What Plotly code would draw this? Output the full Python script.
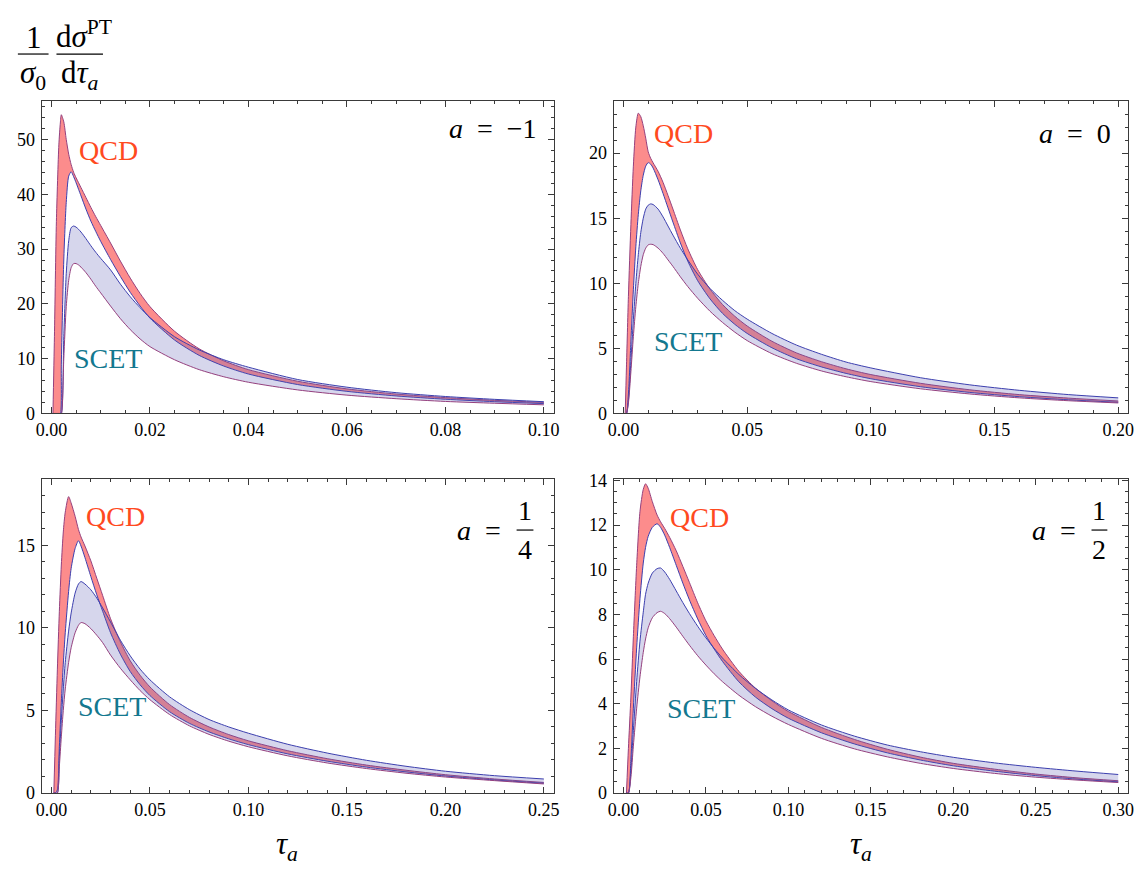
import plotly.graph_objects as go

W, H = 1146, 876

# ---------------- data ----------------
# panel a = -1
tau_am1 = [0.0003, 0.0006, 0.001, 0.0015, 0.0018, 0.002, 0.0025, 0.003, 0.0035, 0.004, 0.0045, 0.005,
           0.0055, 0.006, 0.007, 0.008, 0.009, 0.010, 0.012, 0.014, 0.016, 0.018, 0.020, 0.025, 0.030,
           0.035, 0.040, 0.050, 0.060, 0.070, 0.080, 0.090, 0.100]
qcd1_am1 = [0, 14, 35, 49, 53, 54.5, 53.2, 50.0, 47.3, 45.4, 44.0, 43.0, 42.1, 41.2, 39.4, 37.6, 35.9, 34.3,
            31.1, 27.8, 24.7, 21.9, 19.5, 15.0, 11.8, 9.6, 8.0, 5.88, 4.49, 3.55, 2.9, 2.4, 2.02]
qcd2_am1 = [0, 0, 0, 0, 0, 9, 28, 38.5, 43.3, 44.1, 43.2, 42.1, 40.9, 39.7, 37.3, 35.1, 33.2, 31.4,
            28.1, 25.0, 22.1, 19.6, 17.4, 13.4, 10.6, 8.65, 7.2, 5.28, 4.04, 3.2, 2.6, 2.15, 1.8]
scet1_am1 = [0, 0, 0, 0, 0, 0, 14, 25.5, 31.5, 33.9, 34.2, 34.0, 33.6, 33.1, 31.9, 30.6, 29.4, 28.3,
             26.2, 23.6, 21.3, 19.3, 17.5, 14.0, 11.6, 9.8, 8.45, 6.2, 4.8, 3.8, 3.1, 2.58, 2.15]
scet2_am1 = [0, 0, 0, 0, 0, 0, 10, 19.5, 24.3, 26.6, 27.35, 27.35, 27.1, 26.7, 25.7, 24.5, 23.2, 22.0,
             19.6, 17.3, 15.3, 13.6, 12.2, 9.8, 8.0, 6.7, 5.7, 4.3, 3.35, 2.7, 2.2, 1.87, 1.58]

# panel a = 0
tau_a0 = [0.0007, 0.0012, 0.002, 0.003, 0.004, 0.005, 0.006, 0.007, 0.008, 0.009, 0.010, 0.011, 0.012,
          0.014, 0.016, 0.018, 0.020, 0.023, 0.026, 0.030, 0.035, 0.040, 0.045, 0.050, 0.060, 0.070,
          0.080, 0.090, 0.100, 0.120, 0.140, 0.160, 0.180, 0.200]
qcd1_a0 = [0, 3.5, 9, 14.5, 19, 22, 23.07, 22.8, 22.1, 21.15, 20.1, 19.6, 19.25, 18.6, 17.75, 16.75, 15.7,
           14.1, 12.65, 11.05, 9.55, 8.38, 7.47, 6.72, 5.55, 4.65, 3.98, 3.43, 2.99, 2.32, 1.82, 1.45, 1.18,
           0.96]
qcd2_a0 = [0, 0, 1.5, 5.5, 9.5, 12.8, 15.3, 17.1, 18.3, 19.0, 19.27, 19.15, 18.85, 17.95, 16.9, 15.8, 14.7,
           13.1, 11.7, 10.2, 8.8, 7.7, 6.85, 6.15, 5.05, 4.2, 3.58, 3.08, 2.67, 2.06, 1.62, 1.29, 1.05, 0.86]
scet1_a0 = [0, 0, 1, 4, 7.2, 10.0, 12.2, 13.9, 15.0, 15.7, 16.0, 16.1, 16.05, 15.7, 15.1, 14.4, 13.7,
            12.7, 11.8, 10.7, 9.6, 8.7, 7.9, 7.25, 6.15, 5.25, 4.55, 3.95, 3.5, 2.75, 2.2, 1.78, 1.45, 1.2]
scet2_a0 = [0, 0, 0.8, 3.2, 5.9, 8.2, 10.0, 11.3, 12.2, 12.7, 12.95, 13.0, 12.97, 12.7, 12.3, 11.8, 11.3,
            10.5, 9.75, 8.85, 7.85, 7.0, 6.25, 5.6, 4.6, 3.85, 3.27, 2.82, 2.45, 1.9, 1.5, 1.2, 0.98, 0.81]

# panel a = 1/4
tau_a14 = [0.0012, 0.002, 0.003, 0.004, 0.005, 0.006, 0.007, 0.0087, 0.010, 0.012, 0.0137, 0.015, 0.017,
           0.020, 0.023, 0.026, 0.030, 0.035, 0.040, 0.045, 0.050, 0.060, 0.070, 0.080, 0.090, 0.100,
           0.120, 0.140, 0.160, 0.180, 0.200, 0.225, 0.250]
qcd1_a14 = [0, 3.5, 7.5, 11.0, 13.8, 15.8, 17.0, 17.94, 17.55, 16.75, 15.95, 15.5, 14.95, 14.05, 13.0, 11.95,
            10.55, 9.15, 8.0, 7.13, 6.42, 5.35, 4.58, 4.0, 3.54, 3.16, 2.56, 2.08, 1.69, 1.38, 1.11, 0.85,
            0.64]
qcd2_a14 = [0, 0, 0.2, 2.8, 5.5, 7.8, 9.7, 12.2, 13.6, 14.8, 15.27, 14.95, 14.25, 13.1, 12.0, 11.0, 9.7,
            8.4, 7.35, 6.55, 5.9, 4.92, 4.22, 3.7, 3.28, 2.93, 2.37, 1.93, 1.57, 1.28, 1.03, 0.79, 0.59]
scet1_a14 = [0, 0, 0, 2.2, 4.4, 6.3, 7.9, 9.8, 10.9, 12.1, 12.65, 12.8, 12.65, 12.3, 11.8, 11.2, 10.35,
             9.25, 8.3, 7.5, 6.85, 5.82, 5.05, 4.45, 4.0, 3.62, 2.95, 2.42, 1.98, 1.62, 1.32, 1.05, 0.85]
scet2_a14 = [0, 0, 0, 1.6, 3.4, 5.0, 6.3, 7.9, 8.8, 9.7, 10.15, 10.32, 10.25, 9.95, 9.55, 9.1, 8.35,
             7.55, 6.85, 6.2, 5.65, 4.75, 4.07, 3.55, 3.14, 2.8, 2.25, 1.82, 1.48, 1.2, 0.97, 0.75, 0.55]

# panel a = 1/2
tau_a12 = [0.0018, 0.003, 0.0045, 0.006, 0.008, 0.010, 0.012, 0.0134, 0.015, 0.0175, 0.0204, 0.0225,
           0.025, 0.028, 0.032, 0.036, 0.040, 0.045, 0.050, 0.055, 0.060, 0.070, 0.080, 0.090, 0.100,
           0.120, 0.140, 0.160, 0.180, 0.200, 0.225, 0.250, 0.275, 0.300]
qcd1_a12 = [0, 2.0, 4.3, 7.0, 10.2, 12.6, 13.6, 13.85, 13.65, 13.05, 12.45, 12.15, 11.85, 11.45, 10.85, 10.15,
            9.43, 8.52, 7.71, 7.05, 6.45, 5.45, 4.7, 4.13, 3.65, 2.94, 2.4, 1.96, 1.61, 1.33, 1.07, 0.85,
            0.68, 0.55]
qcd2_a12 = [0, 0, 1.5, 3.8, 6.5, 8.7, 10.3, 11.0, 11.5, 11.9, 12.06, 11.9, 11.55, 11.0, 10.2, 9.4, 8.65,
            7.8, 7.05, 6.45, 5.9, 4.98, 4.3, 3.78, 3.35, 2.7, 2.2, 1.8, 1.48, 1.22, 0.98, 0.78, 0.62, 0.5]
scet1_a12 = [0, 0, 1.0, 2.8, 5.0, 6.8, 8.1, 8.9, 9.4, 9.85, 10.05, 10.08, 9.9, 9.57, 9.05, 8.53, 8.04,
             7.47, 6.95, 6.48, 6.05, 5.31, 4.69, 4.17, 3.72, 3.05, 2.55, 2.15, 1.85, 1.6, 1.35, 1.15,
             0.98, 0.83]
scet2_a12 = [0, 0, 0.7, 2.1, 3.8, 5.2, 6.3, 6.9, 7.4, 7.85, 8.08, 8.14, 8.04, 7.81, 7.43, 7.02, 6.62,
             6.15, 5.73, 5.34, 4.99, 4.38, 3.87, 3.44, 3.07, 2.45, 1.98, 1.62, 1.33, 1.1, 0.88, 0.71,
             0.58, 0.47]

x_ticks_major = [0.02, 0.05, 0.05, 0.05]
x_ticks_minor = [0.005, 0.01, 0.01, 0.01]
y_ticks_major = [10, 5, 5, 2]
y_ticks_minor = [2, 1, 1, 0.5]
x_ranges = [[-0.002, 0.102], [-0.004, 0.204], [-0.005, 0.255], [-0.006, 0.306]]
y_ranges = [[0, 57], [0, 24], [0, 19], [0, 14.06]]

panels = [
    (tau_am1, qcd1_am1, qcd2_am1, scet1_am1, scet2_am1),
    (tau_a0, qcd1_a0, qcd2_a0, scet1_a0, scet2_a0),
    (tau_a14, qcd1_a14, qcd2_a14, scet1_a14, scet2_a14),
    (tau_a12, qcd1_a12, qcd2_a12, scet1_a12, scet2_a12),
]

# ---------------- styling ----------------
FONT = "Liberation Serif, Times New Roman, Times, serif"
PURPLE = "#94407e"
BLUE = "#3c3fae"
RED_FILL = "rgb(252,140,140)"
LAV_FILL = "rgba(90,90,180,0.25)"
FRAME = "#3a3a3a"


def px(xp, yp):
    return xp / W, 1 - yp / H


fig = go.Figure()

for i, (t, q1, q2, s1, s2) in enumerate(panels):
    ax = "" if i == 0 else str(i + 1)
    xa, ya = "x" + ax, "y" + ax
    common = dict(x=t, xaxis=xa, yaxis=ya, mode="lines", showlegend=False, hoverinfo="skip")
    fig.add_trace(go.Scatter(y=q1, line=dict(color=PURPLE, width=1, shape="spline", smoothing=0.7), **common))
    fig.add_trace(go.Scatter(y=q2, line=dict(color=BLUE, width=1, shape="spline", smoothing=0.7),
                             fill="tonexty", fillcolor=RED_FILL, **common))
    fig.add_trace(go.Scatter(y=s1, line=dict(color=BLUE, width=1, shape="spline", smoothing=0.7), **common))
    fig.add_trace(go.Scatter(y=s2, line=dict(color=PURPLE, width=1, shape="spline", smoothing=0.7),
                             fill="tonexty", fillcolor=LAV_FILL, **common))

x_domains = [[36 / W, 553.5 / W], [614 / W, 1134 / W], [36 / W, 553.5 / W], [614 / W, 1134 / W]]
y_domains = [[1 - 414 / H, 1 - 95 / H], [1 - 414 / H, 1 - 95 / H],
             [1 - 801.5 / H, 1 - 481 / H], [1 - 801.5 / H, 1 - 481 / H]]

layout = dict(
    width=W, height=H, margin=dict(l=0, r=0, t=0, b=0),
    paper_bgcolor="white", plot_bgcolor="white",
    font=dict(family=FONT, size=18, color="black"),
)
for i in range(4):
    ax = "" if i == 0 else str(i + 1)
    layout["xaxis" + ax] = dict(
        domain=x_domains[i], range=x_ranges[i], anchor="y" + ax,
        showgrid=False, zeroline=False, showline=True, linecolor=FRAME, linewidth=1, mirror="ticks",
        ticks="inside", ticklen=6, tickwidth=1, tickcolor=FRAME, tick0=0, dtick=x_ticks_major[i],
        tickformat=".2f", tickfont=dict(family=FONT, size=18, color="black"),
        minor=dict(ticks="inside", ticklen=3, tickwidth=1, tickcolor=FRAME, dtick=x_ticks_minor[i],
                   tick0=0, showgrid=False),
    )
    layout["yaxis" + ax] = dict(
        domain=y_domains[i], range=y_ranges[i], anchor="x" + ax,
        showgrid=False, zeroline=False, showline=True, linecolor=FRAME, linewidth=1, mirror="ticks",
        ticks="inside", ticklen=6, tickwidth=1, tickcolor=FRAME, tick0=0, dtick=y_ticks_major[i],
        tickfont=dict(family=FONT, size=18, color="black"), ticklabelstandoff=2,
        minor=dict(ticks="inside", ticklen=3, tickwidth=1, tickcolor=FRAME, dtick=y_ticks_minor[i],
                   tick0=0, showgrid=False),
    )
fig.update_layout(**layout)

ann = []
shapes = []


def text(xp, yp, s, size=27, color="black", xanchor="center", yanchor="middle"):
    x, y = px(xp, yp)
    ann.append(dict(x=x, y=y, xref="paper", yref="paper", text=s, showarrow=False,
                    xanchor=xanchor, yanchor=yanchor,
                    font=dict(family=FONT, size=size, color=color)))


def bar(x0, x1, yp, width=1.2):
    a0, b0 = px(x0, yp)
    a1, _ = px(x1, yp)
    shapes.append(dict(type="line", xref="paper", yref="paper", x0=a0, x1=a1, y0=b0, y1=b0,
                       line=dict(color="black", width=width)))


QCD_C = "#ff4a1f"
SCET_C = "#13788f"
EN = "\u2002"
# QCD / SCET labels
text(104, 146, "QCD", size=28, color=QCD_C)
text(103, 358, "SCET", size=28, color=SCET_C)
text(685, 128, "QCD", size=28, color=QCD_C)
text(689, 340, "SCET", size=28, color=SCET_C)
text(111, 519, "QCD", size=28, color=QCD_C)
text(107, 713, "SCET", size=28, color=SCET_C)
text(701, 520, "QCD", size=28, color=QCD_C)
text(702, 715, "SCET", size=28, color=SCET_C)

# panel labels
text(539, 123, "<i>a</i>" + EN + "=" + EN + "−1", size=28, xanchor="right")
text(1119, 128, "<i>a</i>" + EN + "=" + EN + "0", size=28, xanchor="right")
text(516, 533, "<i>a</i>" + EN + "=" + EN, size=28, xanchor="right")
text(524.5, 513, "1", size=28)
bar(516, 533, 533)
text(524.5, 553, "4", size=28)
text(1097, 533, "<i>a</i>" + EN + "=" + EN, size=28, xanchor="right")
text(1105, 513, "1", size=28)
bar(1097, 1113, 533)
text(1105, 553, "2", size=28)

# y-axis title (fraction form)
text(28, 30, "1", size=31)
bar(12, 43, 47)
text(27, 68, "<i>σ</i><sub>0</sub>", size=31)
text(49, 27, "d<i>σ</i><sup>PT</sup>", size=31, xanchor="left")
bar(51, 98, 47)
text(75, 68, "d<i>τ</i><sub><i>a</i></sub>", size=31)

# x-axis titles
text(284, 856, "<i>τ</i><sub><i>a</i></sub>", size=31)
text(864, 856, "<i>τ</i><sub><i>a</i></sub>", size=31)

fig.update_layout(annotations=ann, shapes=shapes)
fig.write_html("out.html")
